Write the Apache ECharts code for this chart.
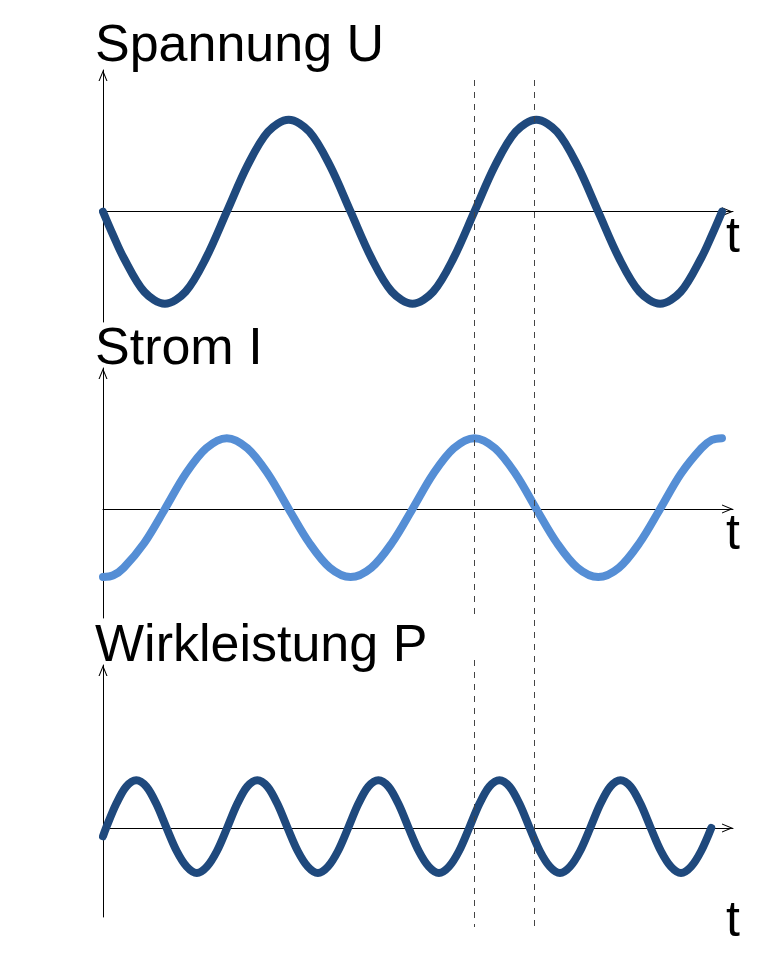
<!DOCTYPE html>
<html>
<head>
<meta charset="utf-8">
<title>Spannung, Strom, Wirkleistung</title>
<script src="https://cdn.jsdelivr.net/npm/echarts@6/dist/echarts.min.js"></script>
<style>
  html, body { margin: 0; padding: 0; background: #fff; }
  #chart { width: 766px; height: 972px; }
</style>
</head>
<body>
<div id="chart"></div>
<script>
// Phasenwinkel (Grad) fuer Spannung und Strom
var phase = [0, 15, 30, 60, 90, 120, 150, 180, 210, 240, 270, 300, 330, 360,
  390, 420, 450, 480, 510, 540, 570, 600, 630, 660, 690, 720,
  750, 780, 810, 840, 870, 885, 900];
// Spannung U (Amplitude = 1)
var spannung = [0, -0.26, -0.5, -0.87, -1, -0.87, -0.5, 0, 0.5, 0.87, 1, 0.87, 0.5, 0,
  -0.5, -0.87, -1, -0.87, -0.5, 0, 0.5, 0.87, 1, 0.87, 0.5, 0,
  -0.5, -0.87, -1, -0.87, -0.5, -0.26, 0];
// Strom I
var strom = [-0.74, -0.72, -0.64, -0.37, 0, 0.38, 0.66, 0.77, 0.66, 0.38, 0, -0.37, -0.64, -0.74,
  -0.64, -0.37, 0, 0.38, 0.66, 0.77, 0.66, 0.38, 0, -0.37, -0.64, -0.74,
  -0.64, -0.37, 0, 0.38, 0.66, 0.75, 0.77];
// Wirkleistung P (doppelte Frequenz, eigene Abtastpunkte)
var leistungPhase = [0, 4.4, 19.1, 33.7, 48.4, 63.1, 77.7, 92.4, 107.1, 121.7, 136.4, 151.1, 165.7,
  180.4, 195.1, 209.7, 224.4, 239.1, 253.7, 268.4, 283.1, 297.7, 312.4, 327.1, 341.7,
  356.4, 371.1, 385.7, 400.4, 415.1, 429.7, 444.4, 459.1, 473.7, 488.4, 503.1, 517.7,
  532.4, 547.1, 561.7, 576.4, 591.1, 605.7, 620.4, 635.1, 649.7, 664.4, 679.1, 693.7,
  708.4, 723.1, 737.7, 752.4, 767.1, 781.7, 796.4, 811.1, 825.7, 840.4, 855.1, 869.7, 884.4];
var leistung = [-0.09,
  0, 0.26, 0.45, 0.52, 0.45, 0.26, 0, -0.25, -0.42, -0.49, -0.42, -0.25,
  0, 0.26, 0.45, 0.52, 0.45, 0.26, 0, -0.25, -0.42, -0.49, -0.42, -0.25,
  0, 0.26, 0.45, 0.52, 0.45, 0.26, 0, -0.25, -0.42, -0.49, -0.42, -0.25,
  0, 0.26, 0.45, 0.52, 0.45, 0.26, 0, -0.25, -0.42, -0.49, -0.42, -0.25,
  0, 0.26, 0.45, 0.52, 0.45, 0.26, 0, -0.25, -0.42, -0.49, -0.42, -0.25,
  0];
var titles = ['Spannung U', 'Strom I', 'Wirkleistung P'];
var axisName = 't';
// gestrichelte Markierungen (Phasenwinkel)
var markerPhase = [540, 627];

(function () {
  var myChart = echarts.init(document.getElementById('chart'), null, { renderer: 'canvas' });

  // Layout der drei Diagramme (Pfeilspitze oben, Nulllinie, unteres Ende)
  var panels = [
    { top: 70, zero: 211.7, bottom: 322, titleTop: 21, tTop: 213 },
    { top: 368, zero: 509, bottom: 618, titleTop: 324, tTop: 510 },
    { top: 665, zero: 828, bottom: 917, titleTop: 621, tTop: 897 }
  ];
  var pxPerUnit = 92;
  var xMax = 916;
  var colors = ['#1f497d', '#558ed5', '#1f497d'];
  var chevron = 'path://M0,11L4.5,0L9,11L7.9,11L4.5,2.7L1.1,11Z';
  var font = '"Liberation Sans", Arial, sans-serif';

  function zip(xs, ys) {
    return xs.map(function (x, i) { return [x, ys[i]]; });
  }
  var seriesData = [zip(phase, spannung), zip(phase, strom), zip(leistungPhase, leistung)];

  var grid = [], xAxis = [], yAxis = [], series = [], title = [];
  panels.forEach(function (p, i) {
    grid.push({ left: 103, width: 630, top: p.top, height: p.bottom - p.top });
    xAxis.push({
      type: 'value', gridIndex: i, min: 0, max: xMax,
      axisLine: {
        onZero: true,
        symbol: ['none', chevron], symbolSize: [9, 11], symbolOffset: [0, -5.5],
        lineStyle: { color: '#000', width: 1 }
      },
      axisTick: { show: false }, axisLabel: { show: false }, splitLine: { show: false }
    });
    yAxis.push({
      type: 'value', gridIndex: i,
      min: -(p.bottom - p.zero) / pxPerUnit,
      max: (p.zero - p.top) / pxPerUnit,
      axisLine: {
        show: true,
        symbol: ['none', chevron], symbolSize: [9, 11], symbolOffset: [0, -5.5],
        lineStyle: { color: '#000', width: 1 }
      },
      axisTick: { show: false }, axisLabel: { show: false }, splitLine: { show: false }
    });
    series.push({
      name: titles[i], type: 'line', xAxisIndex: i, yAxisIndex: i,
      data: seriesData[i], showSymbol: false, smooth: 0.33, clip: false,
      lineStyle: { color: colors[i], width: 8, cap: 'round', join: 'round' }
    });
    title.push({
      text: titles[i], left: 95, top: p.titleTop, padding: 0,
      textStyle: { fontFamily: font, fontSize: 52, fontWeight: 'normal', color: '#000', lineHeight: 52 }
    });
    title.push({
      text: axisName, left: 726, top: p.tTop, padding: 0,
      textStyle: { fontFamily: font, fontSize: 50, fontWeight: 'normal', color: '#000', lineHeight: 50 }
    });
  });

  var option = {
    animation: false,
    backgroundColor: '#fff',
    title: title,
    grid: grid,
    xAxis: xAxis,
    yAxis: yAxis,
    series: series
  };
  myChart.setOption(option);

  // gestrichelte senkrechte Linien ueber alle drei Diagramme
  var segments = [
    [[80, 615], [660, 927]],
    [[80, 927]]
  ];
  var graphic = [];
  markerPhase.forEach(function (ph, i) {
    var x = Math.round(myChart.convertToPixel({ xAxisIndex: 0 }, ph)) + 0.5;
    segments[i].forEach(function (s) {
      graphic.push({
        type: 'line', z: 100,
        shape: { x1: x, y1: s[0], x2: x, y2: s[1] },
        style: { stroke: '#444', lineWidth: 1, lineDash: [6, 6] }
      });
    });
  });
  myChart.setOption({ graphic: graphic });

  window.addEventListener('resize', function () {
    myChart.resize();
  });
})();
</script>
</body>
</html>
